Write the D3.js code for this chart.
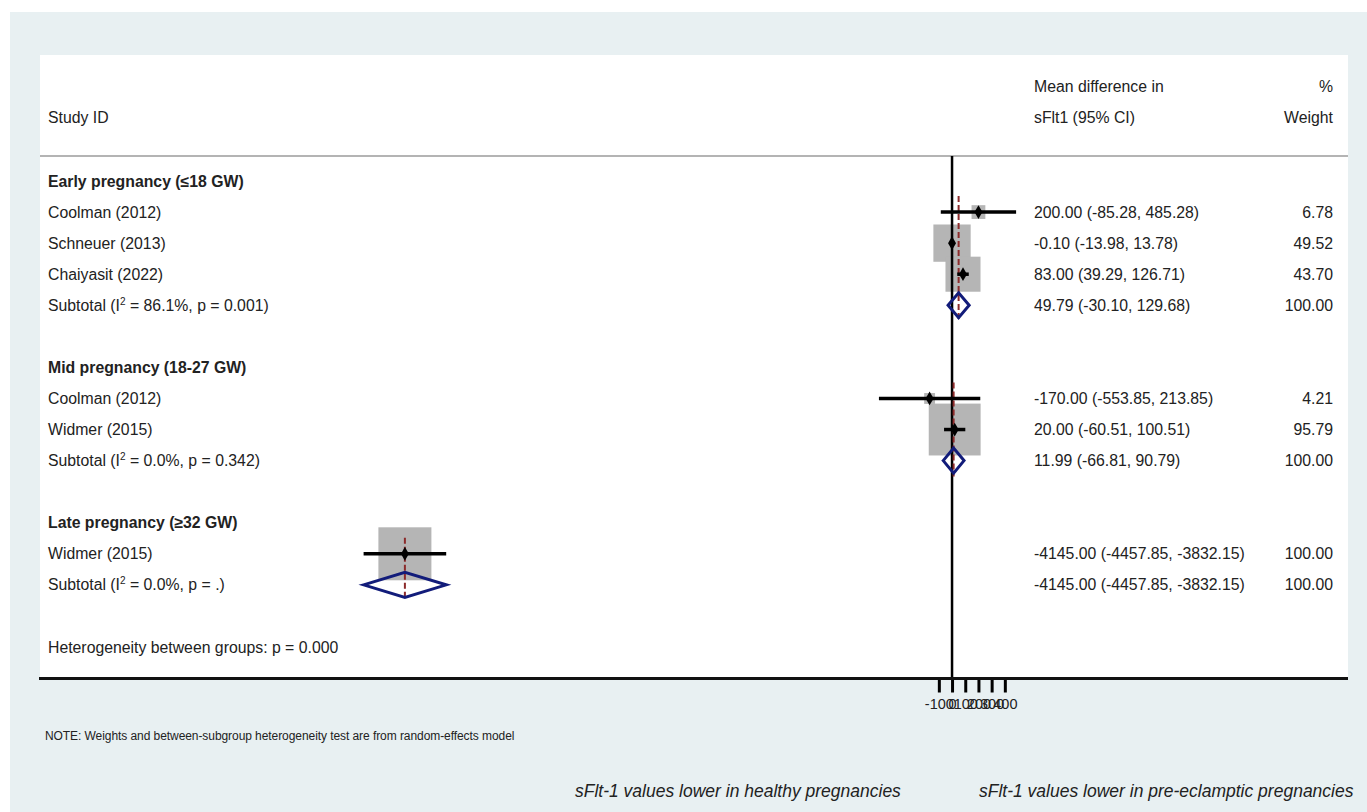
<!DOCTYPE html>
<html>
<head>
<meta charset="utf-8">
<script src="https://cdn.jsdelivr.net/npm/d3@7"></script>
<style>
  html, body { margin: 0; padding: 0; background: #ffffff; }
  svg { display: block; font-family: "Liberation Sans", Arial, sans-serif; }
</style>
</head>
<body>
<svg id="chart" width="1367" height="812"></svg>
<script>
// Subgroups
const groupNames = ["Early pregnancy (\u226418 GW)", "Mid pregnancy (18-27 GW)", "Late pregnancy (\u226532 GW)"];

// Individual studies
const studyNames  = ["Coolman (2012)", "Schneuer (2013)", "Chaiyasit (2022)", "Coolman (2012)", "Widmer (2015)", "Widmer (2015)"];
const studyGroup  = [0, 0, 0, 1, 1, 2];
const studyMD     = [200.00, -0.10, 83.00, -170.00, 20.00, -4145.00];
const studyLo     = [-85.28, -13.98, 39.29, -553.85, -60.51, -4457.85];
const studyHi     = [485.28, 13.78, 126.71, 213.85, 100.51, -3832.15];
const studyWeight = [6.78, 49.52, 43.70, 4.21, 95.79, 100.00];

// Pooled subtotals per subgroup
const subMD  = [49.79, 11.99, -4145.00];
const subLo  = [-30.10, -66.81, -4457.85];
const subHi  = [129.68, 90.79, -3832.15];
const subI2  = ["86.1%", "0.0%", "0.0%"];
const subP   = ["0.001", "0.342", "."];
const subWeight = [100.00, 100.00, 100.00];

const xTicks = [-100, 0, 100, 200, 300, 400];
const heterogeneityText = "Heterogeneity between groups: p = 0.000";

const svg = d3.select("#chart");
const W = 1367, H = 812;
const panel = { left: 40, right: 1348, top: 55, bottom: 678.5 };
const headerLineY = 156;
const textColor = "#222";
const fs = 15.8;

// Background frame
svg.append("rect").attr("x", 0).attr("y", 0).attr("width", W).attr("height", H).attr("fill", "#ffffff");
svg.append("rect").attr("x", 10).attr("y", 12).attr("width", W - 10).attr("height", H - 12).attr("fill", "#e8f0f2");
svg.append("rect").attr("x", panel.left).attr("y", panel.top)
  .attr("width", panel.right - panel.left).attr("height", panel.bottom - panel.top).attr("fill", "#ffffff");

// Build row layout: group header, studies, subtotal, spacer ... heterogeneity
const rows = [];
groupNames.forEach((g, gi) => {
  rows.push({ type: "group", gi });
  studyNames.forEach((s, si) => { if (studyGroup[si] === gi) rows.push({ type: "study", si, gi }); });
  rows.push({ type: "subtotal", gi });
  rows.push({ type: "blank" });
});
rows.push({ type: "het" });
rows.forEach((r, i) => r.idx = i);

const y = d3.scalePoint().domain(rows.map(r => r.idx)).range([181, 647]);
const x = d3.scaleLinear().domain([-4457.85, 485.28]).range([363.6, 1016.1]);
const boxSide = d3.scaleSqrt().domain([0, 100]).range([0, 53]);

const fmt = v => v.toFixed(2);
const colStudy = 48, colCI = 1034, colW = 1333;

// Header text
const hdr = svg.append("g").attr("fill", textColor).attr("font-size", fs);
hdr.append("text").attr("x", colStudy).attr("y", 117).attr("dy", "0.35em").text("Study ID");
hdr.append("text").attr("x", colCI).attr("y", 86).attr("dy", "0.35em").text("Mean difference in");
hdr.append("text").attr("x", colCI).attr("y", 117).attr("dy", "0.35em").text("sFlt1 (95% CI)");
hdr.append("text").attr("x", colW).attr("y", 86).attr("dy", "0.35em").attr("text-anchor", "end").text("%");
hdr.append("text").attr("x", colW).attr("y", 117).attr("dy", "0.35em").attr("text-anchor", "end").text("Weight");

svg.append("line").attr("x1", panel.left).attr("x2", panel.right)
  .attr("y1", headerLineY).attr("y2", headerLineY)
  .attr("stroke", "#b4b4b4").attr("stroke-width", 2);

// Weight boxes (drawn beneath the reference lines)
const studyRows = rows.filter(r => r.type === "study");
svg.append("g").selectAll("rect").data(studyRows).join("rect")
  .attr("x", r => x(studyMD[r.si]) - boxSide(studyWeight[r.si]) / 2)
  .attr("y", r => y(r.idx) - boxSide(studyWeight[r.si]) / 2)
  .attr("width", r => boxSide(studyWeight[r.si]))
  .attr("height", r => boxSide(studyWeight[r.si]))
  .attr("fill", "#b5b5b5");

// Line of no effect
svg.append("line").attr("x1", x(0)).attr("x2", x(0))
  .attr("y1", headerLineY).attr("y2", panel.bottom)
  .attr("stroke", "#000").attr("stroke-width", 2.5);

// Pooled-estimate dashed lines per subgroup
groupNames.forEach((g, gi) => {
  const gRows = studyRows.filter(r => r.gi === gi);
  const sRow = rows.find(r => r.type === "subtotal" && r.gi === gi);
  svg.append("line")
    .attr("x1", x(subMD[gi])).attr("x2", x(subMD[gi]))
    .attr("y1", y(gRows[0].idx) - 16).attr("y2", y(sRow.idx) + 16)
    .attr("stroke", "#8c2b2b").attr("stroke-width", 2)
    .attr("stroke-dasharray", "6,3");
});

// Confidence intervals and point estimates
svg.append("g").selectAll("line").data(studyRows).join("line")
  .attr("x1", r => x(studyLo[r.si])).attr("x2", r => x(studyHi[r.si]))
  .attr("y1", r => y(r.idx)).attr("y2", r => y(r.idx))
  .attr("stroke", "#000").attr("stroke-width", 3.5);
svg.append("g").selectAll("path").data(studyRows).join("path")
  .attr("transform", r => `translate(${x(studyMD[r.si])},${y(r.idx)})`)
  .attr("d", d3.symbol(d3.symbolDiamond, 55))
  .attr("fill", "#000");

// Subtotal diamonds
const subRows = rows.filter(r => r.type === "subtotal");
svg.append("g").selectAll("path").data(subRows).join("path")
  .attr("d", r => {
    const cy = y(r.idx), h = 12.5;
    return `M${x(subLo[r.gi])},${cy} L${x(subMD[r.gi])},${cy - h} L${x(subHi[r.gi])},${cy} L${x(subMD[r.gi])},${cy + h} Z`;
  })
  .attr("fill", "none").attr("stroke", "#121c7a").attr("stroke-width", 3)
  .attr("stroke-linejoin", "miter");

// Left labels
const lab = svg.append("g").attr("fill", textColor).attr("font-size", fs);
rows.forEach(r => {
  if (r.type === "group") {
    lab.append("text").attr("x", colStudy).attr("y", y(r.idx)).attr("dy", "0.35em")
      .attr("font-weight", "bold").text(groupNames[r.gi]);
  } else if (r.type === "study") {
    lab.append("text").attr("x", colStudy).attr("y", y(r.idx)).attr("dy", "0.35em").text(studyNames[r.si]);
  } else if (r.type === "subtotal") {
    const t = lab.append("text").attr("x", colStudy).attr("y", y(r.idx)).attr("dy", "0.35em");
    t.append("tspan").text("Subtotal  (I");
    t.append("tspan").attr("font-size", 10).attr("dy", -6).text("2");
    t.append("tspan").attr("dy", 6).text(` = ${subI2[r.gi]}, p = ${subP[r.gi]})`);
  } else if (r.type === "het") {
    lab.append("text").attr("x", colStudy).attr("y", y(r.idx)).attr("dy", "0.35em").text(heterogeneityText);
  }
});

// Right-hand estimate and weight columns
rows.forEach(r => {
  let md, lo, hi, w;
  if (r.type === "study") { md = studyMD[r.si]; lo = studyLo[r.si]; hi = studyHi[r.si]; w = studyWeight[r.si]; }
  else if (r.type === "subtotal") { md = subMD[r.gi]; lo = subLo[r.gi]; hi = subHi[r.gi]; w = subWeight[r.gi]; }
  else return;
  lab.append("text").attr("x", colCI).attr("y", y(r.idx)).attr("dy", "0.35em")
    .text(`${fmt(md)} (${fmt(lo)}, ${fmt(hi)})`);
  lab.append("text").attr("x", colW).attr("y", y(r.idx)).attr("dy", "0.35em")
    .attr("text-anchor", "end").text(fmt(w));
});

// Bottom rule and x axis
const axis = d3.axisBottom(x).tickValues(xTicks).tickSize(14).tickPadding(6).tickFormat(d => String(d));
const ag = svg.append("g").attr("transform", `translate(0,${panel.bottom})`).call(axis);
ag.select(".domain").remove();
ag.selectAll(".tick line").attr("stroke", "#000").attr("stroke-width", 3);
ag.selectAll(".tick text").attr("fill", textColor).attr("font-size", 14.5)
  .attr("font-family", "'Liberation Sans', Arial, sans-serif");
svg.append("line").attr("x1", panel.left - 1).attr("x2", panel.right)
  .attr("y1", panel.bottom).attr("y2", panel.bottom)
  .attr("stroke", "#111").attr("stroke-width", 3);

// Footnote and direction labels
svg.append("text").attr("x", 45).attr("y", 736).attr("dy", "0.35em")
  .attr("font-size", 12).attr("fill", textColor).attr("letter-spacing", -0.07)
  .text("NOTE: Weights and between-subgroup heterogeneity test are from random-effects model");
svg.append("text").attr("x", 575).attr("y", 791).attr("dy", "0.35em")
  .attr("font-size", 17.5).attr("font-style", "italic").attr("fill", textColor)
  .text("sFlt-1 values lower in healthy pregnancies");
svg.append("text").attr("x", 979).attr("y", 791).attr("dy", "0.35em")
  .attr("font-size", 17.5).attr("font-style", "italic").attr("fill", textColor)
  .text("sFlt-1 values lower in pre-eclamptic pregnancies");
</script>
</body>
</html>
